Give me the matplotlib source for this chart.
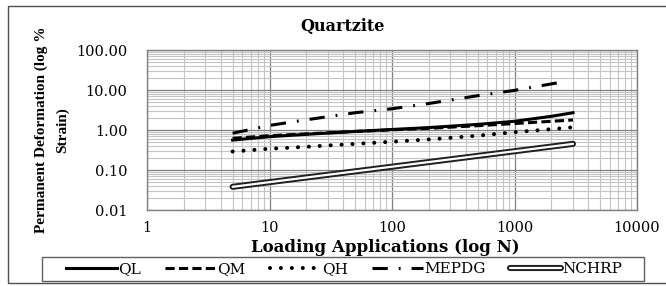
import matplotlib
matplotlib.use("Agg")
import matplotlib.pyplot as plt
import matplotlib.patheffects as pe
from matplotlib.ticker import LogLocator, FixedLocator, NullFormatter
import numpy as np

plt.rcParams['font.family'] = ['Liberation Serif', 'DejaVu Serif']
WIDE = ['DejaVu Serif', 'Liberation Serif']

# Data
N = [5, 10, 20, 50, 100, 200, 500, 1000, 2000, 3000]
QL = [0.56, 0.68, 0.78, 0.92, 1.03, 1.15, 1.38, 1.65, 2.20, 2.70]
QM = [0.62, 0.72, 0.80, 0.92, 1.01, 1.10, 1.28, 1.45, 1.65, 1.78]
QH = [0.29, 0.34, 0.38, 0.45, 0.51, 0.58, 0.72, 0.88, 1.05, 1.17]
N_mepdg = [5, 10, 20, 50, 100, 200, 500, 1000, 2500]
MEPDG = [0.83, 1.30, 1.80, 2.70, 3.40, 4.60, 7.20, 9.80, 16.0]
N_nchrp = [5, 3000]
NCHRP = [0.038, 0.45]

legend_labels = ["QL", "QM", "QH", "MEPDG", "NCHRP"]
title = "Quartzite"
xlabel = "Loading Applications (log N)"
ylabel = "Permanent Deformation (log %\nStrain)"
xticks = [1, 10, 100, 1000, 10000]
yticks = [0.01, 0.1, 1, 10, 100]

W, H = 666, 286
fig = plt.figure(figsize=(W / 100, H / 100), dpi=100)
ax = fig.add_axes([147 / W, 1 - 210 / H, (637 - 147) / W, (210 - 50) / H])

# outer chart border
fig.patches.append(plt.Rectangle((8 / W, 3 / H), 1, (283 - 6) / H, transform=fig.transFigure,
                                 fill=False, edgecolor='#505050', linewidth=1.0))
# legend box
fig.patches.append(plt.Rectangle((42 / W, 1 - 281 / H), (644 - 42) / W, 24 / H,
                                 transform=fig.transFigure, fill=False,
                                 edgecolor='#606060', linewidth=1.0))

ax.set_xscale('log')
ax.set_yscale('log')
ax.set_xlim(1, 10000)
ax.set_ylim(0.01, 100)

ax.xaxis.set_major_locator(FixedLocator(xticks))
ax.yaxis.set_major_locator(FixedLocator(yticks))
ax.xaxis.set_minor_locator(LogLocator(base=10, subs=np.arange(2, 10), numticks=20))
ax.yaxis.set_minor_locator(LogLocator(base=10, subs=np.arange(2, 10), numticks=20))
ax.xaxis.set_minor_formatter(NullFormatter())
ax.yaxis.set_minor_formatter(NullFormatter())
ax.set_xticklabels([str(v) for v in xticks], fontsize=10.5, family=WIDE)
ax.set_yticklabels(["%.2f" % v for v in yticks], fontsize=10.5, family=WIDE)
ax.tick_params(which='both', length=0, pad=8)
ax.tick_params(axis='y', pad=14)

ax.grid(which='major', color='#808080', linewidth=0.9)
ax.grid(which='minor', color='#c4c4c4', linewidth=0.8)
ax.set_axisbelow(True)
for s in ax.spines.values():
    s.set_color('#808080')
    s.set_linewidth(1.0)

ax.plot(N, QL, color='black', linewidth=2.2, label=legend_labels[0])
ax.plot(N, QM, color='black', linewidth=2.2, linestyle=(0, (3.0, 1.4)), label=legend_labels[1])
ax.plot(N, QH, color='black', linewidth=2.9, linestyle=(0, (0.01, 2.7)),
        dash_capstyle='round', label=legend_labels[2])
ax.plot(N_mepdg, MEPDG, color='black', linewidth=2.2, linestyle=(0, (5.0, 3.6, 0.6, 3.6)),
        label=legend_labels[3])
ax.plot(N_nchrp, NCHRP, color='white', linewidth=1.6, solid_capstyle='round',
        path_effects=[pe.Stroke(linewidth=4.4, foreground='#202020', capstyle='round'), pe.Normal()],
        label=legend_labels[4])

fig.text(343 / W, 1 - 26 / H, title, fontsize=11.5, fontweight='bold', family=WIDE,
         ha='center', va='center')
fig.text(385 / W, 1 - 247 / H, xlabel, fontsize=12, fontweight='bold', family=WIDE,
         ha='center', va='center')
ax.set_ylabel(ylabel, fontsize=11, fontweight='bold', linespacing=1.7)
ax.yaxis.set_label_coords(-78 / 490, 0.5)

leg = fig.legend(loc='center left', bbox_to_anchor=(66 / W, 1 - 269 / H),
                 ncol=5, prop={'family': WIDE, 'size': 11},
                 frameon=False, handlelength=3.35,
                 handletextpad=0.05, columnspacing=1.6, borderpad=0.0, borderaxespad=0)

fig.savefig("out.png", dpi=100)
